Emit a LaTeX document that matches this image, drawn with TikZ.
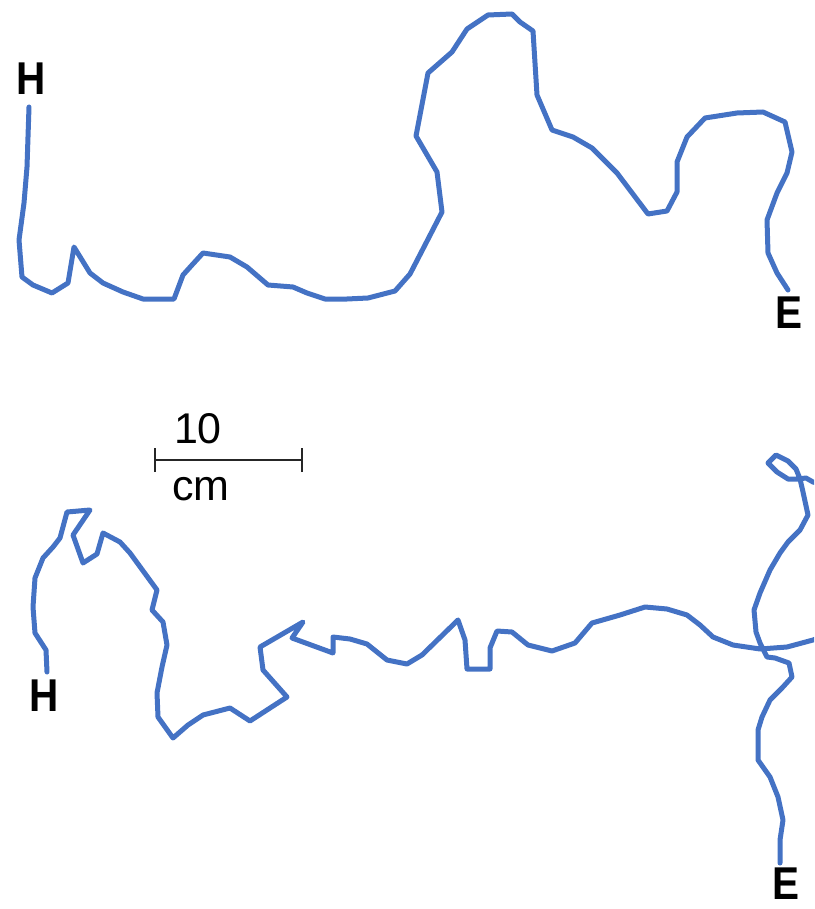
\documentclass[tikz,border=0pt]{standalone}
\usepackage{fontspec}
\setmainfont{Liberation Sans}
\definecolor{trackblue}{RGB}{68,114,196}
\tikzset{
  track/.style={draw=trackblue, line width=5pt, line join=round, line cap=round},
  endlabel/.style={anchor=base, inner sep=0pt, font=\fontsize{46}{46}\selectfont\bfseries},
  scaletext/.style={anchor=base, inner sep=0pt, font=\fontsize{43}{43}\selectfont},
  scalebar/.style={draw=black!85, line width=1.5pt}
}
\begin{document}
\begin{tikzpicture}[x=1pt, y=-1pt]
\useasboundingbox (0,0) rectangle (814,909);
\clip (0,0) rectangle (814,909);

% upper trajectory, H to E
\draw[track] (29,107) -- (27,167) -- (24,203) -- (19,240) -- (22,277) -- (33,285)
  -- (52,293) -- (68,283) -- (74,247) -- (90,273) -- (103,283) -- (123,292)
  -- (143,299) -- (174,299) -- (183,275) -- (192,265) -- (203,253) -- (230,257)
  -- (247,267) -- (268,285) -- (293,287) -- (307,293) -- (325,299) -- (347,299)
  -- (368,298) -- (395,291) -- (410,274) -- (425,245) -- (442,212) -- (437,172)
  -- (416,136) -- (428,73) -- (452,52) -- (467,29) -- (488,15) -- (512,14)
  -- (520,22) -- (533,31) -- (537,95) -- (552,130) -- (573,137) -- (592,148)
  -- (617,173) -- (648,214) -- (667,211) -- (677,192) -- (677,162) -- (687,137)
  -- (705,118) -- (737,113) -- (763,112) -- (785,122) -- (792,152) -- (787,173)
  -- (777,193) -- (767,220) -- (768,253) -- (777,273) -- (788,290);

% lower trajectory, H to E
\draw[track] (47,672) -- (46,650) -- (35,633) -- (33,607) -- (35,578) -- (43,558)
  -- (53,547) -- (60,538) -- (67,512) -- (90,510) -- (73,535) -- (83,563)
  -- (97,554) -- (103,533) -- (120,542) -- (130,553) -- (157,590) -- (152,610)
  -- (163,622) -- (167,645) -- (162,667) -- (157,693) -- (158,717) -- (173,738)
  -- (188,725) -- (203,715) -- (230,708) -- (250,721) -- (287,697) -- (263,670)
  -- (260,647) -- (303,622) -- (292,638) -- (333,653) -- (333,637) -- (350,639)
  -- (367,644) -- (387,660) -- (407,664) -- (422,655) -- (458,620) -- (465,640)
  -- (467,669) -- (490,669) -- (490,648) -- (497,631) -- (512,632) -- (528,645)
  -- (552,651) -- (575,643) -- (592,623) -- (620,615) -- (645,607) -- (667,609)
  -- (687,615) -- (700,625) -- (713,637) -- (733,645) -- (760,649) -- (787,647)
  -- (813,640) .. controls (860,625) and (860,490) .. (813,482)
  -- (806,478) -- (798,479) -- (788,479) -- (777,472) -- (768,463) -- (776,455)
  -- (788,461) -- (796,469) -- (800,479) -- (803,492) -- (808,515) -- (800,530)
  -- (788,542) -- (780,553) -- (770,570) -- (760,593) -- (754,610) -- (756,632)
  -- (760,643) -- (767,657) -- (775,658) -- (789,663) -- (792,677) -- (782,688)
  -- (770,700) -- (762,717) -- (758,730) -- (758,760) -- (770,777) -- (778,797)
  -- (783,820) -- (780,840) -- (780,863);

% end labels
\node[endlabel] (h1) at (31,95) {\scalebox{0.88}[1]{H}};
\node[endlabel] (e1) at (789,328) {\scalebox{0.88}[1]{E}};
\node[endlabel] (h2) at (44,711) {\scalebox{0.88}[1]{H}};
\node[endlabel] (e2) at (786,899) {\scalebox{0.88}[1]{E}};

% scale bar
\coordinate (sbl) at (155,460);
\coordinate (sbr) at (302,460);
\draw[scalebar] (sbl) -- (sbr);
\draw[scalebar] ([yshift=-12pt]sbl) -- ([yshift=12pt]sbl);
\draw[scalebar] ([yshift=-12pt]sbr) -- ([yshift=12pt]sbr);
\node[scaletext] (ten) at (198,443) {10};
\node[scaletext] (cm) at (201,500) {cm};
\end{tikzpicture}
\end{document}
